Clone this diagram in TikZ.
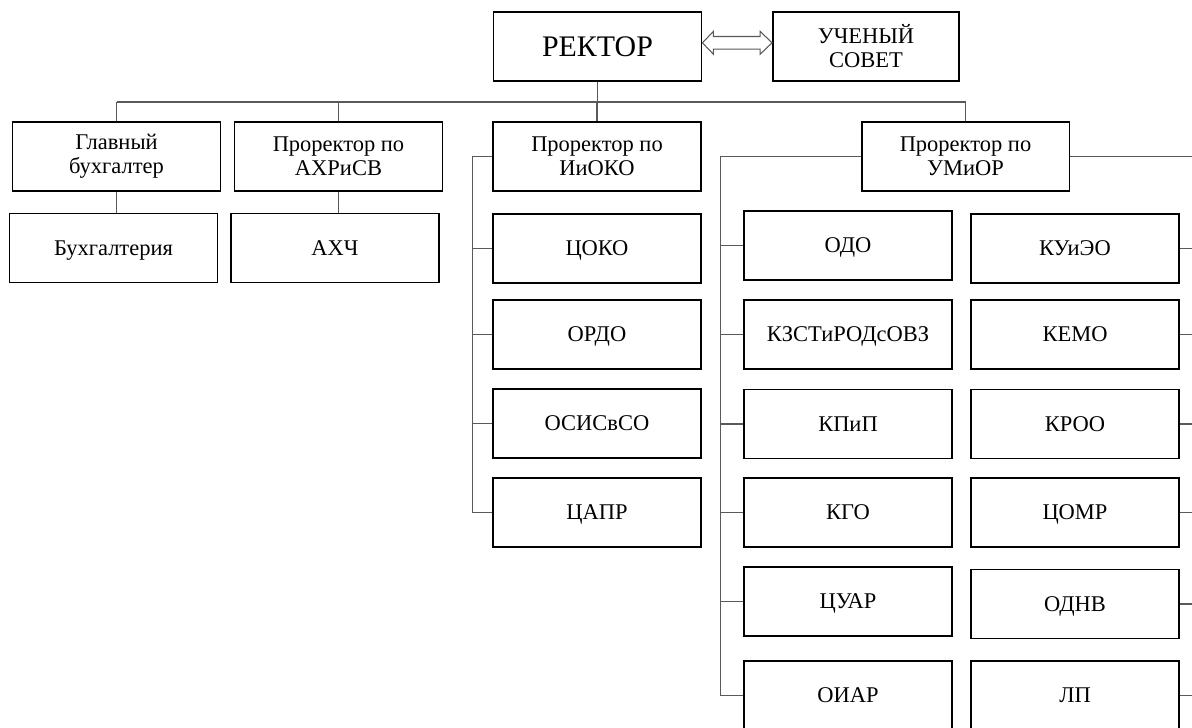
\documentclass[tikz,border=0pt]{standalone}
\usepackage{fontspec}
\setmainfont{Liberation Serif}
\usetikzlibrary{arrows.meta,calc}
\tikzset{unit/.style={draw=black, line width=1.1pt, minimum width=4.16cm, minimum height=1.38cm,
                      inner sep=0pt, align=center, font=\fontsize{12.8}{13.6}\selectfont},
         oneline/.style={unit, text height=10pt, text depth=1.5pt},
         link/.style={draw=black!65, line width=0.6pt}}

\begin{document}
\begin{tikzpicture}[x=0.02cm, y=-0.02cm]
                                \useasboundingbox (0,0) rectangle (1192,727);
                                \clip (0,0) rectangle (1192,727);
                                \node[oneline, font=\fontsize{17}{19}\selectfont, text height=12.5pt, text depth=1.25pt] (rector) at (597.5,46.5) {РЕКТОР};
                                \node[unit, minimum width=3.72cm] (council) at (866,46.5) {УЧЕНЫЙ\\СОВЕТ};
                                \node[unit] (chief) at (116.5,156.5) {Главный\\бухгалтер};
                                \node[unit] (ahr) at (338.5,156.5) {Проректор по\\АХРиСВ};
                                \node[oneline] (acc) at (113.5,248) {Бухгалтерия};
                                \node[oneline] (ahch) at (335,248) {АХЧ};
                                \node[unit] (ioko) at (597,156.5) {Проректор по\\ИиОКО};
                                \node[oneline] (coko) at (597,248.5) {ЦОКО};
                                \node[oneline] (rdo) at (597,334.5) {ОРДО};
                                \node[oneline] (osis) at (597,423.5) {ОСИСвСО};
                                \node[oneline] (capr) at (597,512.5) {ЦАПР};
                                \node[unit] (umior) at (965.5,156.5) {Проректор по\\УМиОР};
                                \node[oneline] (odo) at (848,245.5) {ОДО};
                                \node[oneline] (kzst) at (848,334.5) {КЗСТиРОДсОВЗ};
                                \node[oneline] (kpip) at (848,424) {КПиП};
                                \node[oneline] (kgo) at (848,512.5) {КГО};
                                \node[oneline] (cuar) at (848,601.5) {ЦУАР};
                                \node[oneline] (oiar) at (848,695.5) {ОИАР};
                                \node[oneline] (kuieo) at (1075,248.5) {КУиЭО};
                                \node[oneline] (kemo) at (1075,334.5) {КЕМО};
                                \node[oneline] (kroo) at (1075,424) {КРОО};
                                \node[oneline] (comr) at (1075,512.5) {ЦОМР};
                                \node[oneline] (odnv) at (1075,604) {ОДНВ};
                                \node[oneline] (lp) at (1075,695.5) {ЛП};
                                \path (rector.east) ++(0,-3.7) coordinate (tipL);
                                \path (council.west) ++(0,-3.7) coordinate (tipR);
                                \draw[link, line join=miter] (tipL) -- ++(11,-11.5) -- ++(0,5.2) -- ($(tipR)+(-12,-6.3)$)
                                    -- ++(0,-5.2) -- (tipR) -- ++(-12,11.5) -- ++(0,-5.2) -- ($(tipL)+(11,6.3)$) -- ++(0,5.2) -- cycle;
                                \coordinate (busL) at (117,102);
                                \coordinate (busR) at (965.5,102);
                                \coordinate (edgeR) at (1192,0);
                                \draw[link] (busL) -- (busR);
                                \draw[link] (rector) -- (rector |- busL);
                                \draw[link] (chief) -- (chief |- busL);
                                \draw[link] (ahr) -- (ahr |- busL);
                                \draw[link] (ioko) -- (ioko |- busL);
                                \draw[link] (umior) -- (umior |- busL);
                                \draw[link] (chief) -- (chief |- acc.north);
                                \draw[link] (ahr) -- (ahr |- ahch.north);
                                \draw[link] (ioko.west) -- ++(-20,0) coordinate (spineI) |- (capr.west);
                                \draw[link] (coko.west) -- (coko.west -| spineI);
                                \draw[link] (rdo.west) -- (rdo.west -| spineI);
                                \draw[link] (osis.west) -- (osis.west -| spineI);
                                \draw[link] (umior.west) -- ++(-140,0) coordinate (spineU) |- (oiar.west);
                                \draw[link] (odo.west) -- (odo.west -| spineU);
                                \draw[link] (kzst.west) -- (kzst.west -| spineU);
                                \draw[link] (kpip.west) -- (kpip.west -| spineU);
                                \draw[link] (kgo.west) -- (kgo.west -| spineU);
                                \draw[link] (cuar.west) -- (cuar.west -| spineU);
                                \draw[link] (umior.east) -- (umior.east -| edgeR);
                                \draw[link] (kuieo.east) -- (kuieo.east -| edgeR);
                                \draw[link] (kemo.east) -- (kemo.east -| edgeR);
                                \draw[link] (kroo.east) -- (kroo.east -| edgeR);
                                \draw[link] (comr.east) -- (comr.east -| edgeR);
                                \draw[link] (odnv.east) -- (odnv.east -| edgeR);
                                \draw[link] (lp.east) -- (lp.east -| edgeR);
                            \end{tikzpicture}
\end{document}
